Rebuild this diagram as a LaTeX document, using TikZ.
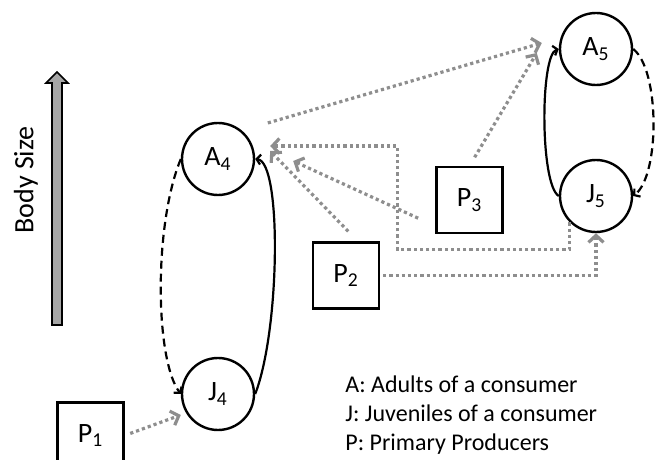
\documentclass[tikz,border=0pt]{standalone}
\usepackage{fontspec}
\setmainfont{Carlito}
\usetikzlibrary{positioning,calc,arrows.meta}
\definecolor{foodgray}{HTML}{8E8E8E}
\definecolor{axisfill}{HTML}{A6A6A6}
\tikzset{
  stage/.style  = {circle, draw, line width=1.2pt, minimum size=36pt, inner sep=0pt,
                   font=\fontsize{14}{16}\selectfont},
  prod/.style   = {draw, line width=1.1pt, minimum width=33pt, minimum height=33pt,
                   inner sep=0pt, font=\fontsize{14}{16}\selectfont},
  growth/.style = {line width=1.1pt, -{Straight Barb[length=2pt,width=5pt]}},
  repro/.style  = {growth, dash pattern=on 4pt off 2.5pt},
  food/.style   = {draw=foodgray, line width=1.6pt, dash pattern=on 1.6pt off 1.5pt,
                   -{Straight Barb[length=3.5pt,width=7.5pt]}},
  lgd/.style    = {anchor=base west, inner sep=0pt, font=\fontsize{12}{14}\selectfont},
}
\begin{document}
\begin{tikzpicture}[x=0.5pt,y=-0.5pt]
  \useasboundingbox (0,0) rectangle (660,460);
  % body size axis
  \draw[line width=0.8pt, fill=axisfill] (52,325) -- (52,83) -- (46,83) -- (57,72)
    -- (68,83) -- (62,83) -- (62,325) -- cycle;
  \node[rotate=90, font=\fontsize{14}{16}\selectfont] (size) at (26,180) {Body Size};
  % consumer stages
  \node[stage] (A4) at (218,159) {A\textsubscript{4}};
  \node[stage] (J4) at (218,394) {J\textsubscript{4}};
  \node[stage] (A5) at (596,49) {A\textsubscript{5}};
  \node[stage] (J5) at (596,196) {J\textsubscript{5}};
  % primary producers
  \node[prod] (P1) at (90.5,435.5) {P\textsubscript{1}};
  \node[prod] (P2) at (346,275.5) {P\textsubscript{2}};
  \node[prod] (P3) at (469.5,200) {P\textsubscript{3}};
  % growth and reproduction
  \draw[repro] (A4.west) .. controls +(-27,65) and +(-26,-35) .. (J4.west);
  \draw[growth] (J4.east) .. controls (280,330) and (282,162) .. (A4.east);
  \draw[growth] (J5.west) .. controls (540,185) and (540,55) .. (A5.west);
  \draw[repro] (A5.east) .. controls (660,70) and (660,175) .. (J5.east);
  % feeding links
  \draw[food, shorten <=3pt] (P1.east) -- ($(J4.west)+(0,21)$);
  \draw[food, shorten <=13.5pt] (A4.50) -- ($(A5.west)+(-17,-6)$);
  \draw[food, shorten <=5pt] (P3.north) -- ($(A5.west)+(-22,4)$);
  \draw[food, shorten <=7pt] ($(P2.north)+(12,0)$) -- ($(A4.east)+(15,-8)$);
  \draw[food, shorten <=9.5pt] ($(P3.south west)+(0,-8)$) -- ($(A4.east)+(38,2)$);
  \draw[food] (J5.225) |- ++(-172,27) |- ($(A4.east)+(15,-13)$);
  \draw[food, shorten <=1.5pt] (P2.east) -| (J5.south);
  % legend
  \node[lgd] (legA) at (345,393) {A: Adults of a consumer};
  \node[lgd] (legJ) at (345,422) {J: Juveniles of a consumer};
  \node[lgd] (legP) at (345,451) {P: Primary Producers};
\end{tikzpicture}
\end{document}
